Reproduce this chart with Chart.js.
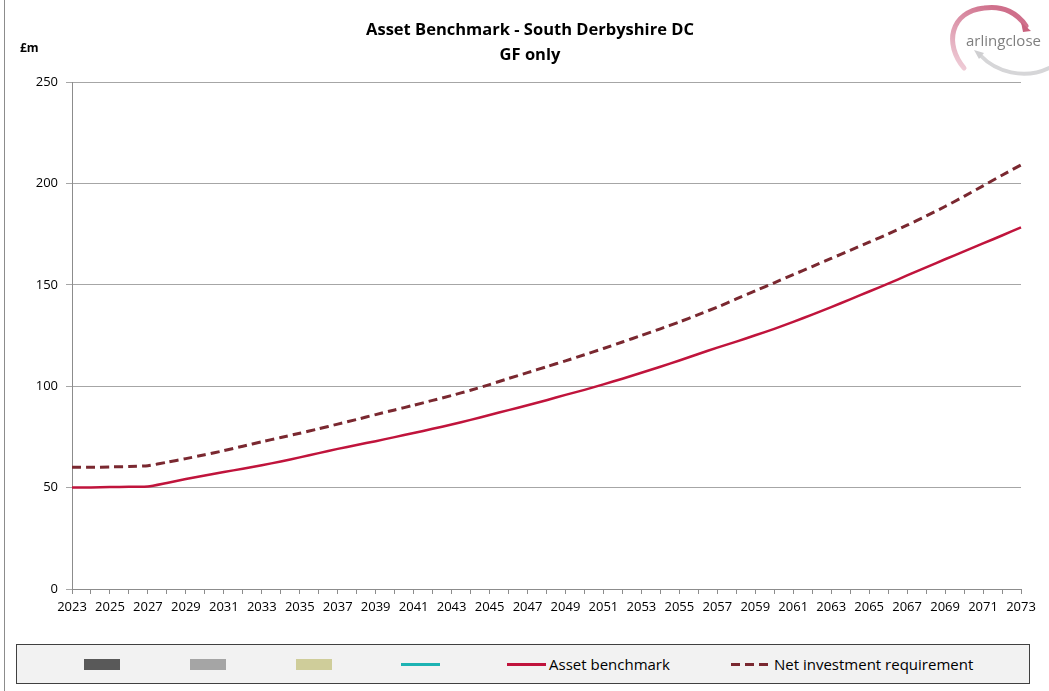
<!DOCTYPE html>
<html>
<head>
<meta charset="utf-8">
<script src="https://cdn.jsdelivr.net/npm/chart.js@4.4.1/dist/chart.umd.min.js"></script>
<style>
body { margin: 0; background: #fff; font-family: 'Open Sans', sans-serif; }
#wrap { position: relative; width: 1049px; height: 691px; overflow: hidden; }
#chart { position: absolute; left: 0; top: 0; }
.title { position: absolute; left: 0; width: 1060px; text-align: center; font-weight: bold; font-size: 16.5px; color: #000; line-height: 20px; }
.unit { position: absolute; left: 20px; top: 39px; font-weight: bold; font-size: 12px; color: #000; }
.edge { position: absolute; left: 4px; top: 0; width: 1px; height: 691px; background: #8c8c8c; }
#legend { position: absolute; left: 16px; top: 644px; width: 1012px; height: 38px; background: #f2f2f2; border: 1px solid #404040; }
.item { position: absolute; top: 0; height: 38px; display: flex; align-items: center; font-size: 15px; color: #000; }
.logo { position: absolute; left: 900px; top: 0; }
</style>
</head>
<body>
<div id="wrap">
  <canvas id="chart" width="1049" height="691"></canvas>
  <div class="edge"></div>
  <div class="title" style="top:19px">Asset Benchmark - South Derbyshire DC</div>
  <div class="title" style="top:44px">GF only</div>
  <div class="unit">£m</div>
  <svg class="logo" width="149" height="80" viewBox="0 0 149 80">
    <defs>
      <linearGradient id="pk" x1="0" y1="1" x2="0.6" y2="0">
        <stop offset="0" stop-color="#f0d0da"/>
        <stop offset="1" stop-color="#cf6f8b"/>
      </linearGradient>
    </defs>
    <path d="M 64 68 C 44 44, 50 12, 84 8 C 104 5, 118 14, 126 26" fill="none" stroke="url(#pk)" stroke-width="5" stroke-linecap="round"/>
    <polygon points="121,22 131,31 123,32" fill="#c9637f"/>
    <path d="M 80 55 C 96 72, 124 80, 149 68" fill="none" stroke="#d6d6d8" stroke-width="4" stroke-linecap="round"/>
    <polygon points="74,50 84,53 79,59" fill="#cfcfd1"/>
    <text x="66" y="46" font-family="Open Sans, sans-serif" font-size="15" fill="#7f7f7f">arlingclose</text>
  </svg>
  <div id="legend"></div>
</div>
<script>
var years = [];
for (var y = 2023; y <= 2073; y++) years.push(String(y));

var assetBenchmark = [
  50.0, 50.1, 50.3, 50.4, 50.5, 52.3, 54.2, 56.0, 57.7, 59.3,
  61.0, 62.9, 64.9, 67.0, 69.1, 71.0, 72.9, 74.9, 76.9, 79.0,
  81.1, 83.4, 85.8, 88.2, 90.6, 93.1, 95.7, 98.2, 100.9, 103.7,
  106.6, 109.6, 112.7, 115.9, 119.0, 122.0, 125.1, 128.3, 131.7, 135.3,
  139.0, 142.8, 146.7, 150.6, 154.6, 158.6, 162.6, 166.5, 170.4, 174.3,
  178.3
];

var netInvestment = [
  60.0, 60.0, 60.2, 60.4, 60.8, 62.5, 64.3, 66.2, 68.2, 70.4,
  72.6, 74.7, 76.8, 79.0, 81.3, 83.6, 86.0, 88.3, 90.6, 93.0,
  95.4, 98.0, 100.8, 103.8, 106.7, 109.6, 112.5, 115.5, 118.6, 121.8,
  125.0, 128.3, 131.7, 135.3, 139.0, 143.0, 147.0, 151.0, 155.0, 159.0,
  163.0, 167.0, 171.0, 175.1, 179.4, 183.9, 188.6, 193.6, 198.8, 204.0,
  209.1
];

var yTicks = [0, 50, 100, 150, 200, 250];

// legend entries, the first four have no data in the chart
var legendItems = [
  { kind: 'box', color: '#595959', left: 67 },
  { kind: 'box', color: '#a5a5a5', left: 173 },
  { kind: 'box', color: '#cfcd9a', left: 279 },
  { kind: 'line', color: '#1db3b3', left: 384 },
  { kind: 'line', color: '#c0143c', left: 490, label: 'Asset benchmark' },
  { kind: 'dash', color: '#7a2830', left: 714, label: 'Net investment requirement' }
];

var legend = document.getElementById('legend');
legendItems.forEach(function (it) {
  var d = document.createElement('div');
  d.className = 'item';
  d.style.left = it.left + 'px';
  var sw = document.createElement('span');
  if (it.kind === 'box') {
    sw.style.cssText = 'display:inline-block;width:36px;height:11px;background:' + it.color;
  } else if (it.kind === 'line') {
    sw.style.cssText = 'display:inline-block;width:39px;height:3px;background:' + it.color;
  } else {
    sw.style.cssText = 'display:inline-block;width:40px;height:3px;background:repeating-linear-gradient(90deg,' +
      it.color + ' 0 9px, transparent 9px 14px)';
  }
  d.appendChild(sw);
  if (it.label) {
    var t = document.createElement('span');
    t.textContent = it.label;
    t.style.marginLeft = '3px';
    d.appendChild(t);
  }
  legend.appendChild(d);
});

Chart.defaults.font.family = "'Open Sans', sans-serif";
Chart.defaults.font.size = 13;
Chart.defaults.color = '#000';

new Chart(document.getElementById('chart'), {
  type: 'line',
  data: {
    labels: years,
    datasets: [
      {
        label: 'Net investment requirement',
        data: netInvestment,
        borderColor: '#7a2830',
        borderWidth: 3,
        borderDash: [9, 5],
        pointRadius: 0,
        tension: 0.2
      },
      {
        label: 'Asset benchmark',
        data: assetBenchmark,
        borderColor: '#c0143c',
        borderWidth: 2.5,
        pointRadius: 0,
        tension: 0.2
      }
    ]
  },
  options: {
    responsive: false,
    animation: false,
    layout: { padding: { top: 82, right: 28, bottom: 72, left: 0 } },
    plugins: { legend: { display: false }, tooltip: { enabled: false } },
    scales: {
      x: {
        offset: false,
        grid: { drawOnChartArea: false, drawTicks: true, tickLength: 5, color: '#8c8c8c' },
        border: { color: '#8c8c8c' },
        ticks: {
          autoSkip: false, maxRotation: 0, minRotation: 0, padding: 5,
          callback: function (v, i) { return i % 2 === 0 ? years[i] : ''; }
        },
        afterFit: function (s) { s.height = 30; }
      },
      y: {
        min: yTicks[0],
        max: yTicks[yTicks.length - 1],
        afterBuildTicks: function (s) { s.ticks = yTicks.map(function (v) { return { value: v }; }); },
        grid: { color: '#a6a6a6', tickLength: 6 },
        border: { color: '#8c8c8c' },
        ticks: { padding: 8 },
        afterFit: function (s) { s.width = 72; }
      }
    }
  }
});
</script>
</body>
</html>
